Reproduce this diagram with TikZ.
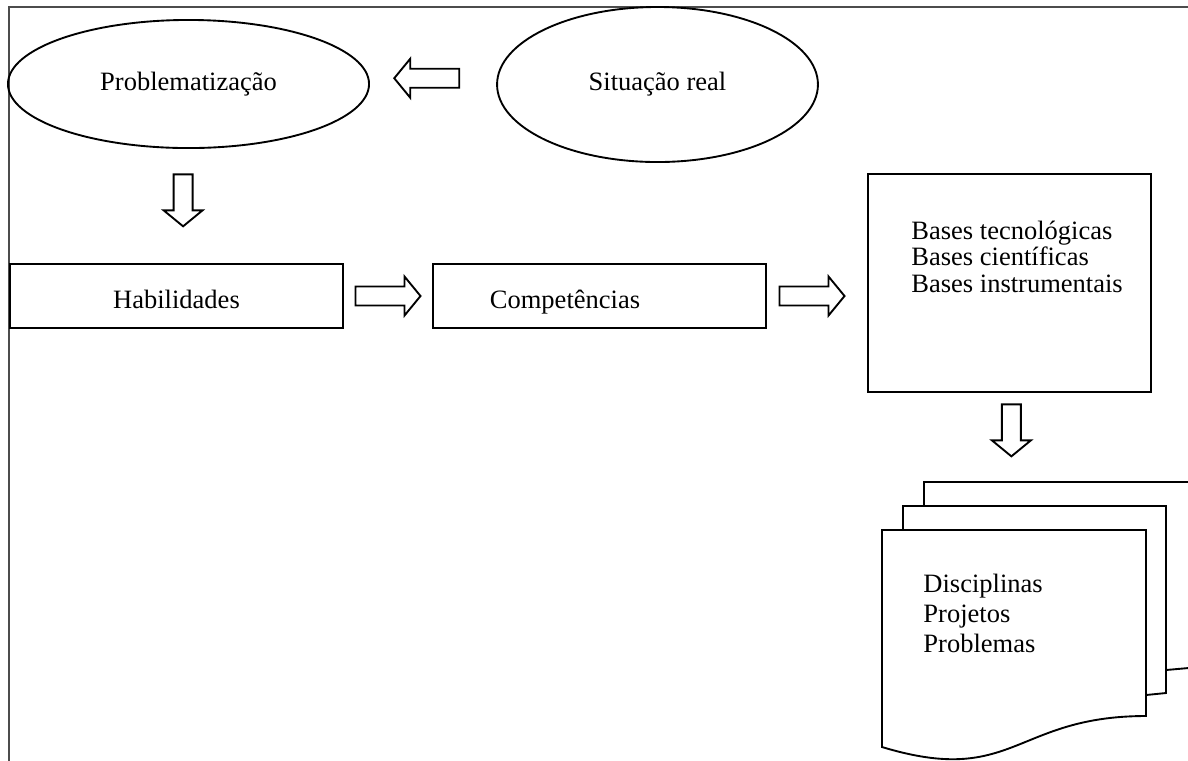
\documentclass[tikz,border=0pt]{standalone}
\usepackage{fontspec}
\setmainfont{Liberation Serif}
\usetikzlibrary{shapes.geometric,calc}

\tikzset{
  box/.style={draw, rectangle, line width=0.85pt, inner sep=0pt,
    text height=1.2em, text depth=0.1em},
  oval/.style={draw, ellipse, line width=0.85pt, inner sep=0pt},
  pics/blockarrow/.style={code={
    \draw[line width=0.85pt, fill=white]
      (-#1/2,-9.5) -- (#1/2-16,-9.5) -- (#1/2-16,-19.5) -- (#1/2,0)
      -- (#1/2-16,19.5) -- (#1/2-16,9.5) -- (-#1/2,9.5) -- cycle;
  }}
}

\begin{document}
\begin{tikzpicture}[x=0.4528pt, y=-0.4528pt, font=\fontsize{12}{14}\selectfont]
	\useasboundingbox (0,0) rectangle (1188,760);
	\clip (0,0) rectangle (1188,760);
	\draw[black!70, line width=1pt] (9,7) rectangle (1250,820);
	% ellipses
	\node[oval, minimum width=163.5pt, minimum height=58pt] (prob) at (188.5,84) {Problematização};
	\node[oval, minimum width=145.3pt, minimum height=70.2pt] (sit) at (657.5,84.5) {Situação real};
	% boxes
	\node[box, minimum width=150.8pt, minimum height=29pt] (hab) at (176.5,296) {Habilidades};
	\node[box, minimum width=150.8pt, minimum height=29pt] (comp) at (599.5,296) {};
	\node[text height=1.2em, text depth=0.1em, inner sep=0pt] (comptxt) at (565,296) {Competências};
	\node[box, minimum width=128.1pt, minimum height=98.7pt] (bases) at (1009.5,283) {};
	\node[anchor=north west, align=left, inner sep=0pt,
	  font=\fontsize{12}{11.8}\selectfont] (basestxt) at (911,221)
	  {Bases tecnológicas\\Bases científicas\\Bases instrumentais};
	% stacked documents
	\coordinate (docs) at (1014,482);
	\draw[line width=0.85pt] (924,506) -- (924,482) -- (1200,482) -- (1200,667) -- (1166,670);
	\draw[line width=0.85pt] (903,530) -- (903,506) -- (1166,506) -- (1166,693) -- (1146,695);
	\draw[line width=0.85pt, fill=white] (882,530) -- (1146,530) -- (1146,716)
	  .. controls (1014,716) and (1014,787) .. (882,747) -- cycle;
	\node[anchor=north west, align=left, inner sep=0pt,
	  font=\fontsize{12}{13.6}\selectfont] (docstxt) at (923,574)
	  {Disciplinas\\Projetos\\Problemas};
	% block arrows
	\pic[rotate=180] at ($(prob.east)!0.45!(sit.west) + (0,-6)$) {blockarrow=65};
	\pic[rotate=-90] at ($(prob.south)!0.45!(hab.north)$) {blockarrow=52};
	\pic at ($(hab.east)!0.5!(comp.west)$) {blockarrow=65};
	\pic at ($(comp.east)!0.45!(comp.east -| bases.west)$) {blockarrow=65};
	\pic[rotate=-90] at ($(bases.south)!0.42!(docs)$) {blockarrow=52};
\end{tikzpicture}
\end{document}
